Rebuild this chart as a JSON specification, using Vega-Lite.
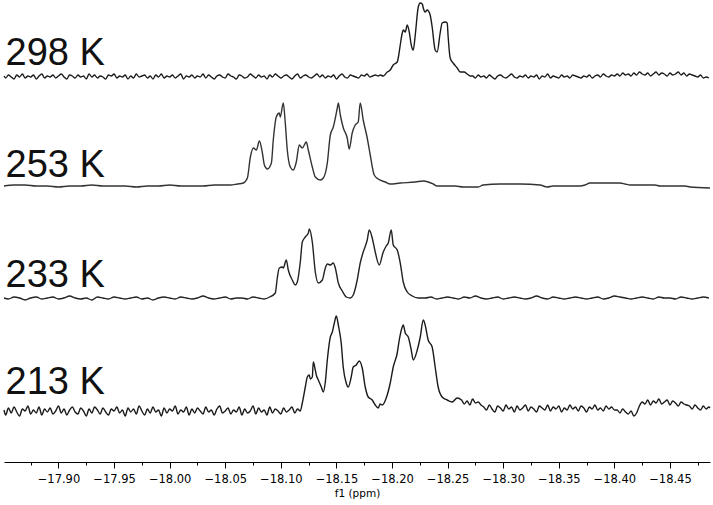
{
"$schema":"https://vega.github.io/schema/vega-lite/v6.json",
"width":706,"height":462,
"autosize":"none",
"padding":{"left":4,"top":0,"right":3,"bottom":43},
"background":"white",
"config":{"view":{"stroke":null}},
"datasets":{
"t298":[
{"ppm":-17.851,"y":386},{"ppm":-17.8525,"y":384},{"ppm":-17.855,"y":387},{"ppm":-17.8575,"y":385},{"ppm":-17.86,"y":383},{"ppm":-17.8625,"y":387},{"ppm":-17.865,"y":385},{"ppm":-17.8675,"y":388},{"ppm":-17.87,"y":384},{"ppm":-17.8725,"y":386},
{"ppm":-17.875,"y":385},{"ppm":-17.8775,"y":387},{"ppm":-17.88,"y":383},{"ppm":-17.8825,"y":386},{"ppm":-17.885,"y":388},{"ppm":-17.8875,"y":384},{"ppm":-17.89,"y":386},{"ppm":-17.8925,"y":385},{"ppm":-17.895,"y":387},{"ppm":-17.8975,"y":384},
{"ppm":-17.9,"y":386},{"ppm":-17.9025,"y":388},{"ppm":-17.905,"y":385},{"ppm":-17.9075,"y":383},{"ppm":-17.91,"y":387},{"ppm":-17.9125,"y":386},{"ppm":-17.915,"y":384},{"ppm":-17.9175,"y":387},{"ppm":-17.92,"y":385},{"ppm":-17.9225,"y":386},
{"ppm":-17.925,"y":383},{"ppm":-17.9275,"y":388},{"ppm":-17.93,"y":385},{"ppm":-17.9325,"y":387},{"ppm":-17.935,"y":384},{"ppm":-17.9375,"y":386},{"ppm":-17.94,"y":385},{"ppm":-17.9425,"y":383},{"ppm":-17.945,"y":387},{"ppm":-17.9475,"y":386},
{"ppm":-17.95,"y":388},{"ppm":-17.9525,"y":384},{"ppm":-17.955,"y":386},{"ppm":-17.9575,"y":385},{"ppm":-17.96,"y":387},{"ppm":-17.9625,"y":383},{"ppm":-17.965,"y":386},{"ppm":-17.9675,"y":384},{"ppm":-17.97,"y":388},{"ppm":-17.9725,"y":385},
{"ppm":-17.975,"y":386},{"ppm":-17.9775,"y":387},{"ppm":-17.98,"y":384},{"ppm":-17.9825,"y":386},{"ppm":-17.985,"y":383},{"ppm":-17.9875,"y":387},{"ppm":-17.99,"y":385},{"ppm":-17.9925,"y":388},{"ppm":-17.995,"y":384},{"ppm":-17.9975,"y":386},
{"ppm":-18.0,"y":385},{"ppm":-18.0025,"y":387},{"ppm":-18.005,"y":384},{"ppm":-18.0075,"y":386},{"ppm":-18.01,"y":388},{"ppm":-18.0125,"y":383},{"ppm":-18.015,"y":386},{"ppm":-18.0175,"y":385},{"ppm":-18.02,"y":387},{"ppm":-18.0225,"y":384},
{"ppm":-18.025,"y":386},{"ppm":-18.0275,"y":385},{"ppm":-18.03,"y":388},{"ppm":-18.0325,"y":384},{"ppm":-18.035,"y":387},{"ppm":-18.0375,"y":385},{"ppm":-18.04,"y":383},{"ppm":-18.0425,"y":386},{"ppm":-18.045,"y":387},{"ppm":-18.0475,"y":385},
{"ppm":-18.05,"y":384},{"ppm":-18.0525,"y":388},{"ppm":-18.055,"y":386},{"ppm":-18.0575,"y":385},{"ppm":-18.06,"y":383},{"ppm":-18.0625,"y":387},{"ppm":-18.065,"y":386},{"ppm":-18.0675,"y":384},{"ppm":-18.07,"y":385},{"ppm":-18.0725,"y":388},
{"ppm":-18.075,"y":386},{"ppm":-18.0775,"y":384},{"ppm":-18.08,"y":387},{"ppm":-18.0825,"y":385},{"ppm":-18.085,"y":386},{"ppm":-18.0875,"y":383},{"ppm":-18.09,"y":387},{"ppm":-18.0925,"y":385},{"ppm":-18.095,"y":388},{"ppm":-18.0975,"y":386},
{"ppm":-18.1,"y":384},{"ppm":-18.1025,"y":386},{"ppm":-18.105,"y":387},{"ppm":-18.1075,"y":385},{"ppm":-18.11,"y":383},{"ppm":-18.1125,"y":386},{"ppm":-18.115,"y":388},{"ppm":-18.1175,"y":384},{"ppm":-18.12,"y":386},{"ppm":-18.1225,"y":387},
{"ppm":-18.125,"y":385},{"ppm":-18.1275,"y":384},{"ppm":-18.13,"y":386},{"ppm":-18.1325,"y":388},{"ppm":-18.135,"y":385},{"ppm":-18.1375,"y":387},{"ppm":-18.14,"y":384},{"ppm":-18.1425,"y":386},{"ppm":-18.145,"y":385},{"ppm":-18.1475,"y":387},
{"ppm":-18.15,"y":383},{"ppm":-18.1525,"y":386},{"ppm":-18.155,"y":388},{"ppm":-18.1575,"y":385},{"ppm":-18.16,"y":384},{"ppm":-18.1625,"y":387},{"ppm":-18.165,"y":386},{"ppm":-18.1675,"y":385},{"ppm":-18.17,"y":384},{"ppm":-18.1725,"y":387},
{"ppm":-18.175,"y":386},{"ppm":-18.1775,"y":388},{"ppm":-18.18,"y":385},{"ppm":-18.1825,"y":386},{"ppm":-18.185,"y":387},{"ppm":-18.1875,"y":386},
{"ppm":-18.1894,"y":387},{"ppm":-18.1921,"y":386},{"ppm":-18.1957,"y":390},{"ppm":-18.1984,"y":392},{"ppm":-18.2011,"y":397},{"ppm":-18.2047,"y":400},{"ppm":-18.2056,"y":404},{"ppm":-18.2074,"y":417},{"ppm":-18.2092,"y":429},{"ppm":-18.2101,"y":432},
{"ppm":-18.2119,"y":430},{"ppm":-18.2137,"y":437},{"ppm":-18.2155,"y":430},{"ppm":-18.2173,"y":417},{"ppm":-18.2191,"y":412},{"ppm":-18.2209,"y":427},{"ppm":-18.2236,"y":455},{"ppm":-18.2254,"y":459},{"ppm":-18.2272,"y":458},{"ppm":-18.2281,"y":454},
{"ppm":-18.2298,"y":450},{"ppm":-18.2316,"y":452},{"ppm":-18.2343,"y":447},{"ppm":-18.2361,"y":435},{"ppm":-18.2388,"y":412},{"ppm":-18.2406,"y":410},{"ppm":-18.2433,"y":429},{"ppm":-18.2451,"y":439},{"ppm":-18.2478,"y":440},{"ppm":-18.2496,"y":439},
{"ppm":-18.2505,"y":425},{"ppm":-18.2523,"y":404},{"ppm":-18.255,"y":399},{"ppm":-18.2586,"y":394},{"ppm":-18.2613,"y":390},{"ppm":-18.2649,"y":390},{"ppm":-18.2676,"y":388},{"ppm":-18.2703,"y":386},
{"ppm":-18.2725,"y":386},{"ppm":-18.275,"y":384},{"ppm":-18.2775,"y":387},{"ppm":-18.28,"y":385},{"ppm":-18.2825,"y":386},{"ppm":-18.285,"y":384},{"ppm":-18.2875,"y":387},{"ppm":-18.29,"y":385},{"ppm":-18.2925,"y":383},{"ppm":-18.295,"y":386},
{"ppm":-18.2975,"y":387},{"ppm":-18.3,"y":385},{"ppm":-18.3025,"y":384},{"ppm":-18.305,"y":386},{"ppm":-18.3075,"y":388},{"ppm":-18.31,"y":385},{"ppm":-18.3125,"y":384},{"ppm":-18.315,"y":386},{"ppm":-18.3175,"y":385},{"ppm":-18.32,"y":387},
{"ppm":-18.3225,"y":384},{"ppm":-18.325,"y":386},{"ppm":-18.3275,"y":385},{"ppm":-18.33,"y":387},{"ppm":-18.3325,"y":383},{"ppm":-18.335,"y":386},{"ppm":-18.3375,"y":385},{"ppm":-18.34,"y":388},{"ppm":-18.3425,"y":384},{"ppm":-18.345,"y":386},
{"ppm":-18.3475,"y":385},{"ppm":-18.35,"y":384},{"ppm":-18.3525,"y":387},{"ppm":-18.355,"y":385},{"ppm":-18.3575,"y":386},{"ppm":-18.36,"y":384},{"ppm":-18.3625,"y":387},{"ppm":-18.365,"y":386},{"ppm":-18.3675,"y":385},{"ppm":-18.37,"y":384},
{"ppm":-18.3725,"y":386},{"ppm":-18.375,"y":385},{"ppm":-18.3775,"y":387},{"ppm":-18.38,"y":384},{"ppm":-18.3825,"y":386},{"ppm":-18.385,"y":387},{"ppm":-18.3875,"y":385},{"ppm":-18.39,"y":388},{"ppm":-18.3925,"y":386},{"ppm":-18.395,"y":385},
{"ppm":-18.3975,"y":387},{"ppm":-18.4,"y":386},
{"ppm":-18.4025,"y":388},{"ppm":-18.405,"y":386},{"ppm":-18.4075,"y":389},{"ppm":-18.41,"y":387},{"ppm":-18.4125,"y":388},{"ppm":-18.415,"y":386},{"ppm":-18.4175,"y":389},{"ppm":-18.42,"y":387},{"ppm":-18.4225,"y":390},{"ppm":-18.425,"y":388},
{"ppm":-18.4275,"y":387},{"ppm":-18.43,"y":389},{"ppm":-18.4325,"y":386},{"ppm":-18.435,"y":388},{"ppm":-18.4375,"y":390},{"ppm":-18.44,"y":387},{"ppm":-18.4425,"y":389},{"ppm":-18.445,"y":388},{"ppm":-18.4475,"y":386},{"ppm":-18.45,"y":389},
{"ppm":-18.4525,"y":387},{"ppm":-18.455,"y":388},{"ppm":-18.4575,"y":390},{"ppm":-18.46,"y":387},{"ppm":-18.4625,"y":389},{"ppm":-18.465,"y":386},{"ppm":-18.4675,"y":388},{"ppm":-18.47,"y":387},
{"ppm":-18.4725,"y":386},{"ppm":-18.475,"y":385},{"ppm":-18.4775,"y":387},{"ppm":-18.48,"y":384},{"ppm":-18.4825,"y":385},{"ppm":-18.485,"y":384}
],
"t253":[
{"ppm":-17.851,"y":276},{"ppm":-17.86,"y":277},{"ppm":-17.87,"y":277},{"ppm":-17.88,"y":276},{"ppm":-17.89,"y":276},{"ppm":-17.9,"y":275},{"ppm":-17.91,"y":276},{"ppm":-17.92,"y":276},{"ppm":-17.93,"y":277},{"ppm":-17.94,"y":276},
{"ppm":-17.95,"y":276},{"ppm":-17.96,"y":276},{"ppm":-17.97,"y":275},{"ppm":-17.98,"y":276},{"ppm":-17.99,"y":276},{"ppm":-18.0,"y":277},{"ppm":-18.01,"y":276},{"ppm":-18.02,"y":276},{"ppm":-18.03,"y":276},{"ppm":-18.04,"y":277},
{"ppm":-18.05,"y":277},{"ppm":-18.0546,"y":277},{"ppm":-18.0609,"y":278},{"ppm":-18.0663,"y":279},{"ppm":-18.0699,"y":284},{"ppm":-18.0726,"y":305},{"ppm":-18.0753,"y":314},{"ppm":-18.078,"y":312},{"ppm":-18.0807,"y":321},{"ppm":-18.0834,"y":309},
{"ppm":-18.0852,"y":297},{"ppm":-18.0879,"y":293},{"ppm":-18.0915,"y":299},{"ppm":-18.0932,"y":322},{"ppm":-18.0959,"y":345},{"ppm":-18.0986,"y":349},{"ppm":-18.0995,"y":345},{"ppm":-18.1022,"y":359},{"ppm":-18.104,"y":339},{"ppm":-18.1058,"y":312},
{"ppm":-18.1085,"y":295},{"ppm":-18.1112,"y":292},{"ppm":-18.1139,"y":300},{"ppm":-18.1166,"y":317},{"ppm":-18.1193,"y":314},{"ppm":-18.1229,"y":320},{"ppm":-18.1247,"y":312},{"ppm":-18.1283,"y":295},{"ppm":-18.131,"y":285},{"ppm":-18.1355,"y":282},
{"ppm":-18.1382,"y":284},{"ppm":-18.1418,"y":299},{"ppm":-18.1445,"y":327},{"ppm":-18.1472,"y":335},{"ppm":-18.1508,"y":354},{"ppm":-18.1517,"y":359},{"ppm":-18.1535,"y":347},{"ppm":-18.1562,"y":334},{"ppm":-18.1597,"y":324},{"ppm":-18.1615,"y":313},
{"ppm":-18.1642,"y":329},{"ppm":-18.1669,"y":337},{"ppm":-18.1696,"y":340},{"ppm":-18.1714,"y":359},{"ppm":-18.1741,"y":342},{"ppm":-18.1777,"y":324},{"ppm":-18.1804,"y":307},{"ppm":-18.184,"y":287},{"ppm":-18.1876,"y":283},{"ppm":-18.1939,"y":280},
{"ppm":-18.1984,"y":278},{"ppm":-18.2074,"y":279},{"ppm":-18.2209,"y":280},{"ppm":-18.2281,"y":281},{"ppm":-18.2326,"y":280},{"ppm":-18.237,"y":278},{"ppm":-18.2406,"y":276},{"ppm":-18.2478,"y":276},{"ppm":-18.2568,"y":276},{"ppm":-18.264,"y":275},
{"ppm":-18.2775,"y":275},{"ppm":-18.282,"y":277},{"ppm":-18.2973,"y":278},{"ppm":-18.3152,"y":278},{"ppm":-18.3332,"y":277},{"ppm":-18.3395,"y":275},{"ppm":-18.3449,"y":276},{"ppm":-18.3691,"y":276},{"ppm":-18.3736,"y":277},{"ppm":-18.3781,"y":279},
{"ppm":-18.4051,"y":279},{"ppm":-18.4096,"y":278},{"ppm":-18.4141,"y":277},{"ppm":-18.4365,"y":277},{"ppm":-18.441,"y":276},{"ppm":-18.4635,"y":276},{"ppm":-18.468,"y":275},{"ppm":-18.486,"y":274}
],
"t233":[
{"ppm":-17.851,"y":164},{"ppm":-17.855,"y":163},{"ppm":-17.86,"y":165},{"ppm":-17.865,"y":164},{"ppm":-17.87,"y":162},{"ppm":-17.875,"y":164},{"ppm":-17.88,"y":165},{"ppm":-17.885,"y":163},{"ppm":-17.89,"y":164},{"ppm":-17.895,"y":165},
{"ppm":-17.9,"y":163},{"ppm":-17.905,"y":164},{"ppm":-17.91,"y":166},{"ppm":-17.915,"y":164},{"ppm":-17.92,"y":163},{"ppm":-17.925,"y":164},{"ppm":-17.93,"y":162},{"ppm":-17.935,"y":165},{"ppm":-17.94,"y":164},{"ppm":-17.945,"y":163},
{"ppm":-17.95,"y":165},{"ppm":-17.955,"y":164},{"ppm":-17.96,"y":163},{"ppm":-17.965,"y":164},{"ppm":-17.97,"y":165},{"ppm":-17.975,"y":163},{"ppm":-17.98,"y":164},{"ppm":-17.985,"y":162},{"ppm":-17.99,"y":164},{"ppm":-17.995,"y":165},
{"ppm":-18.0,"y":164},{"ppm":-18.005,"y":163},{"ppm":-18.01,"y":165},{"ppm":-18.015,"y":164},{"ppm":-18.02,"y":163},{"ppm":-18.025,"y":164},{"ppm":-18.03,"y":166},{"ppm":-18.035,"y":164},{"ppm":-18.04,"y":163},{"ppm":-18.045,"y":164},
{"ppm":-18.05,"y":165},{"ppm":-18.055,"y":163},{"ppm":-18.06,"y":164},{"ppm":-18.065,"y":164},{"ppm":-18.07,"y":163},{"ppm":-18.075,"y":165},{"ppm":-18.08,"y":164},{"ppm":-18.085,"y":163},{"ppm":-18.09,"y":165},
{"ppm":-18.095,"y":169},{"ppm":-18.0968,"y":184},{"ppm":-18.0986,"y":194},{"ppm":-18.1013,"y":195},{"ppm":-18.1022,"y":194},{"ppm":-18.1049,"y":202},{"ppm":-18.1067,"y":192},{"ppm":-18.1103,"y":182},{"ppm":-18.113,"y":177},{"ppm":-18.1148,"y":180},
{"ppm":-18.1175,"y":200},{"ppm":-18.1193,"y":220},{"ppm":-18.122,"y":225},{"ppm":-18.1247,"y":229},{"ppm":-18.1256,"y":233},{"ppm":-18.1283,"y":220},{"ppm":-18.131,"y":190},{"ppm":-18.1337,"y":179},{"ppm":-18.1373,"y":182},{"ppm":-18.14,"y":194},
{"ppm":-18.1418,"y":198},{"ppm":-18.1445,"y":197},{"ppm":-18.1472,"y":199},{"ppm":-18.149,"y":194},{"ppm":-18.1517,"y":179},{"ppm":-18.1553,"y":171},{"ppm":-18.1589,"y":165},{"ppm":-18.1624,"y":164},{"ppm":-18.1651,"y":167},{"ppm":-18.1687,"y":182},
{"ppm":-18.1714,"y":199},{"ppm":-18.1741,"y":210},{"ppm":-18.1777,"y":222},{"ppm":-18.1795,"y":232},{"ppm":-18.1822,"y":224},{"ppm":-18.1849,"y":210},{"ppm":-18.1885,"y":197},{"ppm":-18.1921,"y":210},{"ppm":-18.1948,"y":216},{"ppm":-18.1966,"y":219},
{"ppm":-18.1993,"y":232},{"ppm":-18.2011,"y":217},{"ppm":-18.2047,"y":212},{"ppm":-18.2074,"y":199},{"ppm":-18.2101,"y":180},{"ppm":-18.2137,"y":170},{"ppm":-18.2182,"y":166},{"ppm":-18.2236,"y":164},
{"ppm":-18.23,"y":164},{"ppm":-18.235,"y":165},{"ppm":-18.24,"y":163},{"ppm":-18.245,"y":164},{"ppm":-18.25,"y":165},{"ppm":-18.255,"y":164},{"ppm":-18.26,"y":163},{"ppm":-18.265,"y":165},{"ppm":-18.27,"y":164},{"ppm":-18.275,"y":166},
{"ppm":-18.28,"y":164},{"ppm":-18.285,"y":163},{"ppm":-18.29,"y":164},{"ppm":-18.295,"y":165},{"ppm":-18.3,"y":163},{"ppm":-18.305,"y":164},{"ppm":-18.31,"y":165},{"ppm":-18.315,"y":164},{"ppm":-18.32,"y":163},{"ppm":-18.325,"y":164},
{"ppm":-18.33,"y":166},{"ppm":-18.335,"y":164},{"ppm":-18.34,"y":163},{"ppm":-18.345,"y":165},{"ppm":-18.35,"y":164},{"ppm":-18.355,"y":163},{"ppm":-18.36,"y":164},{"ppm":-18.365,"y":165},{"ppm":-18.37,"y":164},{"ppm":-18.375,"y":163},
{"ppm":-18.38,"y":164},{"ppm":-18.385,"y":165},{"ppm":-18.39,"y":163},{"ppm":-18.395,"y":164},{"ppm":-18.4,"y":166},{"ppm":-18.405,"y":165},{"ppm":-18.41,"y":164},{"ppm":-18.415,"y":163},{"ppm":-18.42,"y":164},{"ppm":-18.425,"y":165},
{"ppm":-18.43,"y":164},{"ppm":-18.435,"y":163},{"ppm":-18.44,"y":165},{"ppm":-18.445,"y":164},{"ppm":-18.45,"y":164},{"ppm":-18.455,"y":163},{"ppm":-18.46,"y":165},{"ppm":-18.465,"y":164},{"ppm":-18.47,"y":163},{"ppm":-18.475,"y":164},
{"ppm":-18.48,"y":165},{"ppm":-18.485,"y":164}
],
"t213":[
{"ppm":-17.851,"y":52},{"ppm":-17.8525,"y":47},{"ppm":-17.855,"y":54},{"ppm":-17.8575,"y":49},{"ppm":-17.86,"y":55},{"ppm":-17.8625,"y":50},{"ppm":-17.865,"y":46},{"ppm":-17.8675,"y":53},{"ppm":-17.87,"y":51},{"ppm":-17.8725,"y":56},
{"ppm":-17.875,"y":48},{"ppm":-17.8775,"y":52},{"ppm":-17.88,"y":49},{"ppm":-17.8825,"y":55},{"ppm":-17.885,"y":47},{"ppm":-17.8875,"y":53},{"ppm":-17.89,"y":50},{"ppm":-17.8925,"y":54},{"ppm":-17.895,"y":48},{"ppm":-17.8975,"y":51},
{"ppm":-17.9,"y":56},{"ppm":-17.9025,"y":49},{"ppm":-17.905,"y":53},{"ppm":-17.9075,"y":47},{"ppm":-17.91,"y":52},{"ppm":-17.9125,"y":55},{"ppm":-17.915,"y":50},{"ppm":-17.9175,"y":48},{"ppm":-17.92,"y":54},{"ppm":-17.9225,"y":51},
{"ppm":-17.925,"y":46},{"ppm":-17.9275,"y":53},{"ppm":-17.93,"y":49},{"ppm":-17.9325,"y":55},{"ppm":-17.935,"y":52},{"ppm":-17.9375,"y":48},{"ppm":-17.94,"y":54},{"ppm":-17.9425,"y":50},{"ppm":-17.945,"y":47},{"ppm":-17.9475,"y":53},
{"ppm":-17.95,"y":51},{"ppm":-17.9525,"y":55},{"ppm":-17.955,"y":49},{"ppm":-17.9575,"y":52},{"ppm":-17.96,"y":46},{"ppm":-17.9625,"y":54},{"ppm":-17.965,"y":50},{"ppm":-17.9675,"y":53},{"ppm":-17.97,"y":48},{"ppm":-17.9725,"y":56},
{"ppm":-17.975,"y":51},{"ppm":-17.9775,"y":47},{"ppm":-17.98,"y":53},{"ppm":-17.9825,"y":49},{"ppm":-17.985,"y":55},{"ppm":-17.9875,"y":50},{"ppm":-17.99,"y":52},{"ppm":-17.9925,"y":46},{"ppm":-17.995,"y":54},{"ppm":-17.9975,"y":49},
{"ppm":-18.0,"y":53},{"ppm":-18.0025,"y":51},{"ppm":-18.005,"y":56},{"ppm":-18.0075,"y":48},{"ppm":-18.01,"y":52},{"ppm":-18.0125,"y":50},{"ppm":-18.015,"y":55},{"ppm":-18.0175,"y":47},{"ppm":-18.02,"y":53},{"ppm":-18.0225,"y":49},
{"ppm":-18.025,"y":54},{"ppm":-18.0275,"y":51},{"ppm":-18.03,"y":48},{"ppm":-18.0325,"y":55},{"ppm":-18.035,"y":50},{"ppm":-18.0375,"y":52},{"ppm":-18.04,"y":47},{"ppm":-18.0425,"y":53},{"ppm":-18.045,"y":56},{"ppm":-18.0475,"y":49},
{"ppm":-18.05,"y":51},{"ppm":-18.0525,"y":54},{"ppm":-18.055,"y":48},{"ppm":-18.0575,"y":52},{"ppm":-18.06,"y":50},{"ppm":-18.0625,"y":55},{"ppm":-18.065,"y":47},{"ppm":-18.0675,"y":53},{"ppm":-18.07,"y":49},{"ppm":-18.0725,"y":51},
{"ppm":-18.075,"y":56},{"ppm":-18.0775,"y":48},{"ppm":-18.08,"y":54},{"ppm":-18.0825,"y":50},{"ppm":-18.085,"y":52},{"ppm":-18.0875,"y":47},{"ppm":-18.09,"y":55},{"ppm":-18.0925,"y":49},{"ppm":-18.095,"y":53},{"ppm":-18.0975,"y":51},
{"ppm":-18.1,"y":48},{"ppm":-18.1025,"y":54},{"ppm":-18.105,"y":50},{"ppm":-18.1075,"y":52},{"ppm":-18.11,"y":55},{"ppm":-18.1125,"y":49},{"ppm":-18.115,"y":53},{"ppm":-18.1175,"y":51},
{"ppm":-18.1193,"y":59},{"ppm":-18.122,"y":75},{"ppm":-18.1238,"y":85},{"ppm":-18.1256,"y":87},{"ppm":-18.1265,"y":83},{"ppm":-18.1283,"y":85},{"ppm":-18.1292,"y":100},{"ppm":-18.131,"y":92},{"ppm":-18.1319,"y":87},{"ppm":-18.1337,"y":82},
{"ppm":-18.1364,"y":75},{"ppm":-18.1382,"y":70},{"ppm":-18.14,"y":80},{"ppm":-18.1418,"y":102},{"ppm":-18.1445,"y":125},{"ppm":-18.1463,"y":130},{"ppm":-18.1481,"y":139},{"ppm":-18.1499,"y":146},{"ppm":-18.1517,"y":137},{"ppm":-18.1543,"y":119},
{"ppm":-18.1561,"y":95},{"ppm":-18.1588,"y":79},{"ppm":-18.1606,"y":75},{"ppm":-18.1633,"y":85},{"ppm":-18.1651,"y":95},{"ppm":-18.1678,"y":97},{"ppm":-18.1705,"y":101},{"ppm":-18.1732,"y":94},{"ppm":-18.1759,"y":75},{"ppm":-18.1786,"y":65},
{"ppm":-18.1822,"y":62},{"ppm":-18.1849,"y":57},{"ppm":-18.1876,"y":54},{"ppm":-18.1894,"y":58},{"ppm":-18.1912,"y":57},{"ppm":-18.1948,"y":64},{"ppm":-18.1984,"y":79},{"ppm":-18.2011,"y":95},{"ppm":-18.2047,"y":109},{"ppm":-18.2065,"y":122},
{"ppm":-18.2092,"y":135},{"ppm":-18.2101,"y":137},{"ppm":-18.2119,"y":129},{"ppm":-18.2146,"y":125},{"ppm":-18.2173,"y":112},{"ppm":-18.2191,"y":102},{"ppm":-18.2227,"y":112},{"ppm":-18.2254,"y":125},{"ppm":-18.2281,"y":142},{"ppm":-18.2298,"y":137},
{"ppm":-18.2325,"y":122},{"ppm":-18.2361,"y":115},{"ppm":-18.2388,"y":95},{"ppm":-18.2415,"y":75},{"ppm":-18.2451,"y":65},{"ppm":-18.2496,"y":62},{"ppm":-18.2541,"y":60},{"ppm":-18.2586,"y":64},
{"ppm":-18.2625,"y":62},{"ppm":-18.265,"y":58},{"ppm":-18.2675,"y":61},{"ppm":-18.27,"y":57},{"ppm":-18.2725,"y":63},{"ppm":-18.275,"y":59},{"ppm":-18.2775,"y":60},{"ppm":-18.28,"y":57},
{"ppm":-18.2825,"y":55},{"ppm":-18.285,"y":52},{"ppm":-18.2875,"y":57},{"ppm":-18.29,"y":53},{"ppm":-18.2925,"y":50},{"ppm":-18.295,"y":56},{"ppm":-18.2975,"y":54},{"ppm":-18.3,"y":51},{"ppm":-18.3025,"y":57},{"ppm":-18.305,"y":53},
{"ppm":-18.3075,"y":55},{"ppm":-18.31,"y":50},{"ppm":-18.3125,"y":56},{"ppm":-18.315,"y":52},{"ppm":-18.3175,"y":54},{"ppm":-18.32,"y":57},{"ppm":-18.3225,"y":51},{"ppm":-18.325,"y":55},{"ppm":-18.3275,"y":53},{"ppm":-18.33,"y":50},
{"ppm":-18.3325,"y":56},{"ppm":-18.335,"y":54},{"ppm":-18.3375,"y":52},{"ppm":-18.34,"y":57},{"ppm":-18.3425,"y":51},{"ppm":-18.345,"y":55},{"ppm":-18.3475,"y":53},{"ppm":-18.35,"y":56},{"ppm":-18.3525,"y":50},{"ppm":-18.355,"y":54},
{"ppm":-18.3575,"y":52},{"ppm":-18.36,"y":57},{"ppm":-18.3625,"y":53},{"ppm":-18.365,"y":55},{"ppm":-18.3675,"y":51},{"ppm":-18.37,"y":56},{"ppm":-18.3725,"y":54},{"ppm":-18.375,"y":50},{"ppm":-18.3775,"y":55},{"ppm":-18.38,"y":53},
{"ppm":-18.3825,"y":57},{"ppm":-18.385,"y":52},{"ppm":-18.3875,"y":54},{"ppm":-18.39,"y":51},{"ppm":-18.3925,"y":56},{"ppm":-18.395,"y":53},{"ppm":-18.3975,"y":55},{"ppm":-18.4,"y":52},
{"ppm":-18.4025,"y":52},{"ppm":-18.405,"y":49},{"ppm":-18.4075,"y":53},{"ppm":-18.41,"y":50},{"ppm":-18.4125,"y":48},{"ppm":-18.415,"y":51},{"ppm":-18.4175,"y":46},{"ppm":-18.42,"y":49},
{"ppm":-18.4225,"y":56},{"ppm":-18.425,"y":60},{"ppm":-18.4275,"y":58},{"ppm":-18.43,"y":62},{"ppm":-18.4325,"y":57},{"ppm":-18.435,"y":61},{"ppm":-18.4375,"y":59},{"ppm":-18.44,"y":63},{"ppm":-18.4425,"y":58},{"ppm":-18.445,"y":60},
{"ppm":-18.4475,"y":62},{"ppm":-18.45,"y":57},{"ppm":-18.4525,"y":61},{"ppm":-18.455,"y":59},{"ppm":-18.4575,"y":56},{"ppm":-18.46,"y":60},{"ppm":-18.4625,"y":58},{"ppm":-18.465,"y":57},
{"ppm":-18.4675,"y":56},{"ppm":-18.47,"y":53},{"ppm":-18.4725,"y":57},{"ppm":-18.475,"y":54},{"ppm":-18.4775,"y":52},{"ppm":-18.48,"y":56},{"ppm":-18.4825,"y":53},{"ppm":-18.485,"y":55},{"ppm":-18.486,"y":54}
],
"labels":[
{"label":"298 K","ppm":-17.8524,"y":397},
{"label":"253 K","ppm":-17.8524,"y":285},
{"label":"233 K","ppm":-17.8524,"y":175},
{"label":"213 K","ppm":-17.8524,"y":68}
]
},
"encoding":{
"x":{"field":"ppm","type":"quantitative",
"scale":{"domain":[-18.486,-17.851],"reverse":true,"nice":false,"zero":false},
"axis":{"title":"f1 (ppm)",
"values":[-17.875,-17.9,-17.925,-17.95,-17.975,-18.0,-18.025,-18.05,-18.075,-18.1,-18.125,-18.15,-18.175,-18.2,-18.225,-18.25,-18.275,-18.3,-18.325,-18.35,-18.375,-18.4,-18.425,-18.45,-18.475],
"labelExpr":"abs(round(datum.value*40)) % 2 == 0 ? format(datum.value, '.2f') : ''",
"tickSize":{"condition":{"test":"abs(round(datum.value*40)) % 2 == 0","value":6},"value":3},
"grid":false,"domainColor":"#000","tickColor":"#000","labelColor":"#000","titleColor":"#000",
"labelFont":"DejaVu Sans","labelFontSize":11.5,"labelPadding":5,"labelFlush":false,"labelOverlap":false,
"titleFont":"DejaVu Sans","titleFontSize":10.5,"titleFontWeight":"normal","titlePadding":4}},
"y":{"field":"y","type":"quantitative","scale":{"domain":[0,462],"nice":false,"zero":false},"axis":null}
},
"layer":[
{"data":{"name":"t298"},"mark":{"type":"line","color":"#1a1a1a","strokeWidth":1.4,"interpolate":"monotone"}},
{"data":{"name":"t253"},"mark":{"type":"line","color":"#333","strokeWidth":1.4,"interpolate":"monotone"}},
{"data":{"name":"t233"},"mark":{"type":"line","color":"#222","strokeWidth":1.4,"interpolate":"monotone"}},
{"data":{"name":"t213"},"mark":{"type":"line","color":"#1a1a1a","strokeWidth":1.4,"interpolate":"monotone"}},
{"data":{"name":"labels"},"mark":{"type":"text","align":"left","baseline":"alphabetic","font":"Liberation Sans","fontSize":38,"color":"#111"},"encoding":{"text":{"field":"label"}}}
]
}
